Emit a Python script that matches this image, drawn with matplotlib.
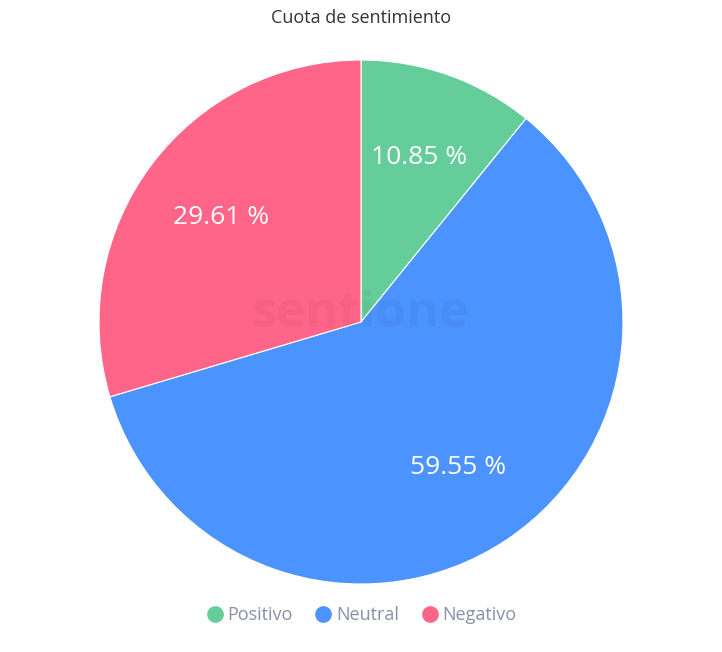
import matplotlib
matplotlib.use("Agg")
import matplotlib.pyplot as plt
from matplotlib.lines import Line2D

plt.rcParams['font.family'] = ['Open Sans', 'DejaVu Sans']

title = "Cuota de sentimiento"
categories = ["Positivo", "Neutral", "Negativo"]
shares = [10.85, 59.55, 29.61]
colors = ["#64CD9A", "#4B93FF", "#FF6489"]

W, H = 722, 652
fig = plt.figure(figsize=(W / 100, H / 100), dpi=100)
cx, cy, R = 361, 322, 262
ax = fig.add_axes([(cx - R) / W, (H - cy - R) / H, 2 * R / W, 2 * R / H])

wedges, texts, autotexts = ax.pie(
    shares, colors=colors, startangle=90, counterclock=False,
    autopct=lambda p: "", pctdistance=0.667,
    wedgeprops=dict(edgecolor="white", linewidth=0.8))

for w, t, v in zip(wedges, autotexts, shares):
    t.set_text(f"{v:.2f} %")
    t.set_color("white")
    t.set_fontsize(19)

ax.set_xlim(-1.0, 1.0)
ax.set_ylim(-1.0, 1.0)
ax.set_aspect("equal")
ax.axis("off")

# faint watermark
ax.text(0.0, 0.03, "sentione", ha="center", va="center", fontsize=36,
        fontweight="bold", color="#000000", alpha=0.04, zorder=5)

fig.text(0.5, 1 - 18 / H, title, ha="center", va="center", fontsize=13, color="#333333")

handles = [Line2D([0], [0], marker="o", linestyle="none", markersize=11,
                  markerfacecolor=c, markeredgecolor=c) for c in colors]
leg = fig.legend(handles, categories, loc="center", bbox_to_anchor=(0.5, 1 - 615 / H),
                 ncol=3, frameon=False, fontsize=13, handletextpad=0.2,
                 columnspacing=1.2, handlelength=1.0)
for t in leg.get_texts():
    t.set_color("#8A8FA8")

fig.savefig("out.png", dpi=100, facecolor="white")
